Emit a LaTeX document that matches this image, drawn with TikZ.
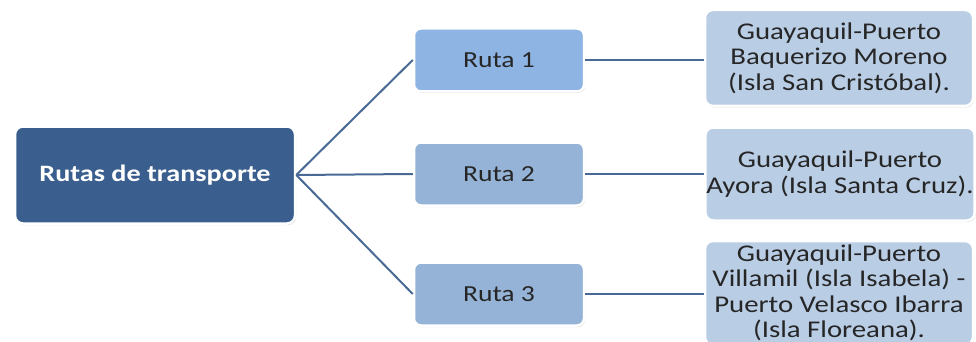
\documentclass[tikz,border=0pt]{standalone}
\usepackage{fontspec}
\setmainfont{Carlito}[FakeStretch=1.2]
\usetikzlibrary{positioning,shadows}
\definecolor{rootblue}{HTML}{3A5F8F}
\definecolor{routeblue}{HTML}{8EB4E3}
\definecolor{routegrey}{HTML}{95B3D7}
\definecolor{destblue}{HTML}{B9CDE5}
\definecolor{linkblue}{HTML}{4A6A96}
\begin{document}
\begin{tikzpicture}[x=1pt,y=-1pt,
root/.style={draw=white,line width=2.5pt,rounded corners=8pt,fill=rootblue,text=white,font=\bfseries\fontsize{23.5}{27}\selectfont,minimum width=280pt,minimum height=97pt,drop shadow={shadow xshift=1pt,shadow yshift=-1.5pt,opacity=.3}},
route/.style={draw=white,line width=2.5pt,rounded corners=7pt,fill=routegrey,text=black!85,font=\fontsize{23}{27}\selectfont,minimum width=170pt,minimum height=63pt,drop shadow={shadow xshift=1pt,shadow yshift=-1.5pt,opacity=.3}},
dest/.style={draw=white,line width=2.5pt,rounded corners=8pt,fill=destblue,text=black!85,align=center,inner xsep=1pt,font=\fontsize{24}{25.5}\selectfont,minimum width=268pt,drop shadow={shadow xshift=1pt,shadow yshift=-1.5pt,opacity=.3}},
link/.style={draw=linkblue,line width=2pt}]
\useasboundingbox (0,0) rectangle (976,342);
\clip (0,0) rectangle (976,342);
\node[root](rutas) at (155,175){Rutas de transporte};
\node[route,fill=routeblue](ruta1) at (499,60){Ruta 1};
\node[route](ruta2) at (499,174){Ruta 2};
\node[route](ruta3) at (499,294){Ruta 3};
\node[dest,minimum height=96pt](dest1) at (839,58){Guayaquil-Puerto\\Baquerizo Moreno\\(Isla San Cristóbal).};
\node[dest,minimum height=93pt](dest2) at (840,174){Guayaquil-Puerto\\Ayora (Isla Santa Cruz).};
\node[dest,minimum height=104pt](dest3) at (839,293){Guayaquil-Puerto\\Villamil (Isla Isabela) -\\Puerto Velasco Ibarra\\(Isla Floreana).};
\draw[link](rutas.east)--(ruta1.west);\draw[link](rutas.east)--(ruta2.west);\draw[link](rutas.east)--(ruta3.west);
\draw[link](ruta1)--(ruta1-|dest1.west);\draw[link](ruta2)--(ruta2-|dest2.west);\draw[link](ruta3)--(ruta3-|dest3.west);
\end{tikzpicture}
\end{document}
